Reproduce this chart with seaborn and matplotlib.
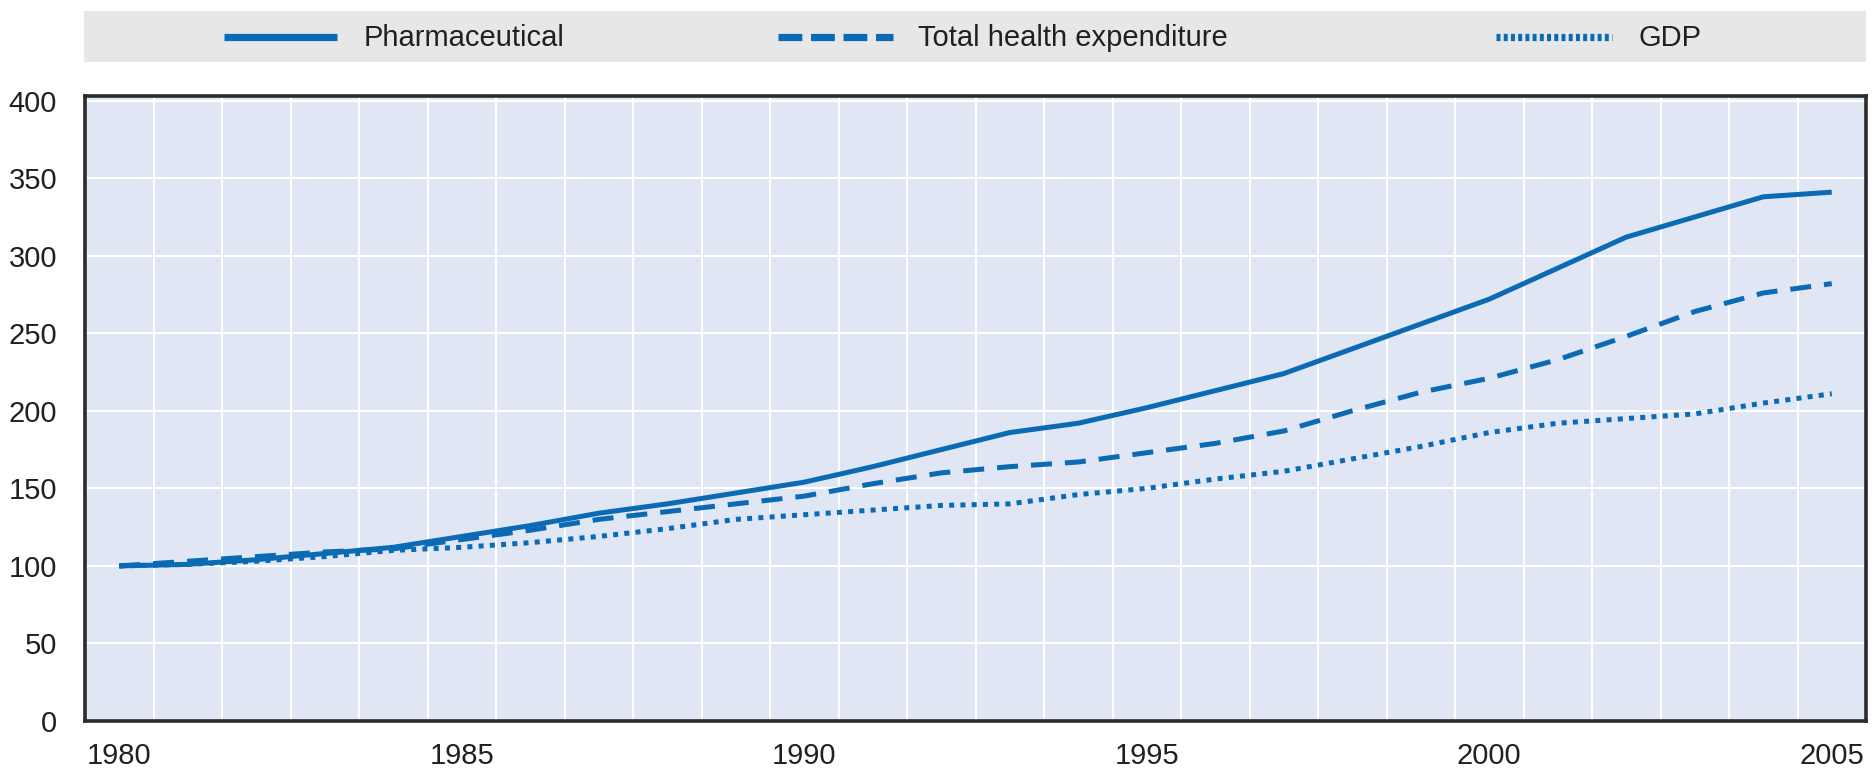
import numpy as np
import pandas as pd
import matplotlib
matplotlib.use("Agg")
import matplotlib.pyplot as plt
import seaborn as sns

years = list(range(1980, 2006))
pharmaceutical = [100, 101, 104, 108, 112, 119, 126, 134, 140, 147, 154, 164, 175,
                  186, 192, 202, 213, 224, 240, 256, 272, 292, 312, 325, 338, 341]
total_health = [100, 103, 106, 109, 111, 117, 123, 130, 135, 140, 145, 153, 160,
                164, 167, 173, 179, 187, 200, 212, 221, 233, 248, 264, 276, 282]
gdp = [100, 101, 103, 106, 110, 112, 115, 119, 124, 130, 133, 136, 139,
       140, 146, 150, 156, 161, 169, 177, 186, 192, 195, 198, 205, 211]
series_names = ["Pharmaceutical", "Total health expenditure", "GDP"]
y_ticks = [0, 50, 100, 150, 200, 250, 300, 350, 400]
x_labels = [1980, 1985, 1990, 1995, 2000, 2005]

sns.set_theme(style="white")
plt.rcParams['font.family'] = ['Liberation Sans Narrow', 'Liberation Sans', 'DejaVu Sans']

LINE = "#0a6ab4"
BG = "#e0e6f3"
BAND = "#e6e7e9"
SPINE = "#2b2b2b"
TXT = "#231f20"

W, H = 1872, 772
fig = plt.figure(figsize=(W / 100, H / 100), dpi=100)
fig.patch.set_facecolor("white")

left_px, right_px, bottom_px, top_px = 85, 1866, 721, 96
ax = fig.add_axes([left_px / W, 1 - bottom_px / H, (right_px - left_px) / W, (bottom_px - top_px) / H])
ax.set_facecolor(BG)

df = pd.DataFrame({"year": years, series_names[0]: pharmaceutical,
                   series_names[1]: total_health, series_names[2]: gdp})

styles = ["-", (0, (4.2, 2.6)), (0, (1.0, 1.25))]
lw = 3.6
for name, ls in zip(series_names, styles):
    sns.lineplot(data=df, x="year", y=name, ax=ax, color=LINE, linewidth=lw,
                 linestyle=ls, solid_capstyle="butt", dash_capstyle="butt", legend=False)

ax.set_xlim(years[0] - 0.5, years[-1] + 0.5)
ax.set_ylim(0, 403)
ax.set_xlabel("")
ax.set_ylabel("")

# x: boundaries as major ticks (with grid), labels at year centres via minor ticks
bounds = [y + 0.5 for y in years[:-1]]
ax.set_xticks(bounds)
ax.set_xticklabels([])
ax.set_xticks(x_labels, minor=True)
ax.set_xticklabels([str(v) for v in x_labels], minor=True)
ax.tick_params(axis="x", which="major", direction="in", length=9.5, width=2, color=SPINE)
ax.tick_params(axis="x", which="minor", length=0, pad=15, labelsize=21, labelcolor=TXT)

ax.set_yticks(y_ticks)
ax.set_yticklabels([str(v) for v in y_ticks])
ax.tick_params(axis="y", direction="in", length=9.5, width=2, color=SPINE,
               pad=20, labelsize=21, labelcolor=TXT)

ax.grid(True, which="major", color="white", linewidth=1.5)
ax.set_axisbelow(True)
for s in ax.spines.values():
    s.set_visible(True)
    s.set_color(SPINE)
    s.set_linewidth(2.6)

# legend band
band = fig.add_axes([84 / W, 1 - 62 / H, (1866 - 84) / W, 51 / H])
band.set_facecolor(BAND)
band.set_xlim(84, 1866)
band.set_ylim(0, 1)
band.set_xticks([])
band.set_yticks([])
for s in band.spines.values():
    s.set_visible(False)

key_spans = [(224, 337), (778, 893), (1496, 1612)]
text_x = [364, 918, 1638]
key_styles = ["-", (0, (3.3, 1.2)), (0, (0.55, 0.45))]
for name, (x0, x1), tx, ls in zip(series_names, key_spans, text_x, key_styles):
    band.plot([x0, x1], [0.5, 0.5], color=LINE, linewidth=5.2, linestyle=ls,
              solid_capstyle="butt", dash_capstyle="butt")
    band.text(tx, 0.47, name, fontsize=21, color=TXT, va="center", ha="left")

fig.savefig("out.png", dpi=100, facecolor="white")
